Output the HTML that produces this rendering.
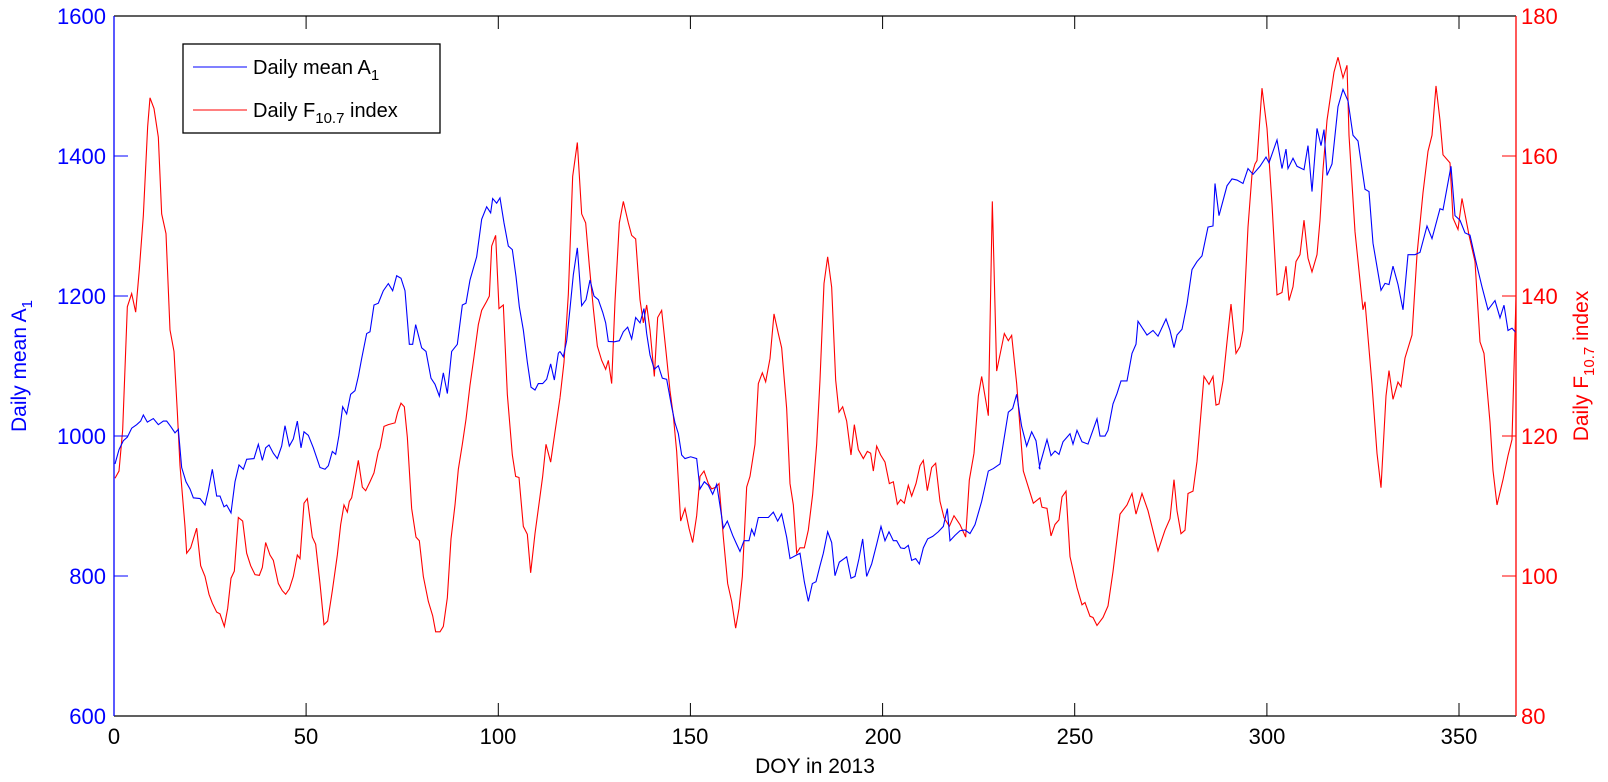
<!DOCTYPE html>
<html><head><meta charset="utf-8"><style>
html,body{margin:0;padding:0;background:#fff;}
svg{display:block;font-family:"Liberation Sans",Arial,sans-serif;}
</style></head><body>
<svg width="1608" height="782" viewBox="0 0 1608 782" xmlns="http://www.w3.org/2000/svg">
<rect width="1608" height="782" fill="#fff"/>
<g transform="translate(100,80) scale(0.33333,0.35714)" fill="none" stroke-width="1.1">
<polyline vector-effect="non-scaling-stroke" stroke="#ff0000" points="45,1115 57,1095 68,980 82,635 95,598 107,650 118,530 130,380 143,130 150,50 162,80 175,160 185,375 198,430 210,700 222,760 232,930 240,1080 255,1250 260,1325 272,1310 290,1255 302,1360 315,1390 327,1440 337,1465 350,1490 360,1495 373,1530 383,1480 393,1395 403,1375 415,1225 428,1235 440,1325 452,1360 465,1385 478,1387 487,1365 497,1295 510,1330 520,1345 535,1410 547,1430 557,1440 568,1425 580,1390 592,1330 600,1340 612,1185 622,1172 637,1280 647,1300 660,1410 672,1525 683,1515 697,1430 712,1330 722,1245 732,1190 742,1210 748,1180 755,1170 775,1065 787,1140 797,1150 810,1125 822,1100 835,1040 840,1030 852,970 865,965 885,960 893,930 903,905 913,915 922,1000 935,1200 948,1280 958,1290 970,1390 985,1460 998,1500 1007,1545 1020,1545 1030,1530 1042,1450 1053,1285 1065,1190 1075,1090 1087,1020 1098,950 1110,855 1122,775 1135,685 1145,645 1160,620 1168,605 1175,465 1187,435 1197,640 1210,630 1222,880 1237,1050 1247,1110 1257,1113 1270,1250 1282,1272 1292,1380 1305,1270 1318,1180 1328,1110 1338,1020 1352,1070 1365,985 1380,890"/>
<polyline vector-effect="non-scaling-stroke" stroke="#0000ff" points="45,1075 57,1035 70,1010 82,1000 95,975 110,965 122,955 130,938 142,958 160,948 175,965 190,955 200,955 212,970 225,988 235,978 245,1085 258,1125 270,1145 280,1170 300,1172 315,1190 325,1150 337,1090 350,1165 360,1165 372,1195 380,1190 393,1212 405,1125 417,1078 430,1090 440,1062 462,1060 475,1020 487,1065 497,1030 507,1022 520,1045 532,1060 545,1025 555,968 568,1025 580,1005 592,955 603,1030 612,985 625,995 640,1030 660,1085 675,1090 685,1080 697,1040 707,1048 717,995 728,915 740,935 752,880 765,870 775,830 785,780 800,710 810,705 822,630 835,625 850,590 865,570 878,590 890,548 903,555 915,590 928,740 938,740 947,685 965,750 978,760 993,835 1005,852 1018,885 1030,820 1042,878 1055,760 1072,740 1087,630 1098,625 1110,560 1130,495 1145,390 1160,355 1172,372 1178,332 1190,345 1200,330 1212,400 1225,465 1237,475 1248,550 1258,635 1270,700 1282,790 1293,860 1305,868 1315,850 1328,850 1340,838 1352,795 1363,840 1375,765 1380,760"/>
</g>
<g transform="translate(560,80) scale(0.33333,0.35714)" fill="none" stroke-width="1.1">
<polyline vector-effect="non-scaling-stroke" stroke="#ff0000" points="0,890 12,790 25,600 38,270 52,175 65,375 77,400 88,520 100,640 112,745 125,785 137,810 145,785 155,850 165,620 178,400 190,340 205,400 215,435 227,445 240,615 250,680 260,630 270,700 283,830 293,665 305,645 318,760 330,870 340,940 350,1040 362,1235 375,1200 387,1255 398,1295 410,1220 420,1110 432,1095 445,1130 455,1145 468,1140 477,1130 490,1280 503,1410 515,1460 527,1535 537,1480 547,1390 560,1140 570,1110 585,1020 595,850 607,820 617,845 630,780 642,655 655,710 665,750 680,920 690,1130 700,1190 710,1325 720,1310 733,1310 745,1260 758,1160 770,1020 780,840 792,570 803,495 815,580 827,840 837,930 848,915 860,955 873,1050 883,965 895,1035 910,1060 922,1040 932,1045 940,1095 950,1025 962,1050 975,1070 988,1130 1000,1125 1012,1188 1022,1175 1033,1185 1045,1135 1055,1165 1068,1130 1080,1080 1090,1065 1102,1150 1115,1085 1127,1073 1140,1180 1152,1225 1168,1250 1182,1220 1200,1245 1217,1280 1228,1120 1242,1045 1255,885 1265,830 1285,940 1297,340 1310,815 1333,710 1345,730 1355,715 1370,850 1390,1095 1420,1185 1440,1170 1446,1197"/>
<polyline vector-effect="non-scaling-stroke" stroke="#0000ff" points="0,760 10,775 20,730 30,640 40,545 52,470 65,632 78,615 90,560 102,605 115,615 128,650 137,680 145,732 163,733 178,730 190,705 203,692 215,725 227,665 240,680 252,640 260,710 270,770 283,810 295,800 307,835 320,838 335,915 345,960 355,990 365,1050 375,1060 392,1055 410,1060 420,1145 433,1125 445,1135 458,1160 470,1132 483,1210 490,1255 502,1235 518,1275 530,1300 540,1320 552,1290 567,1290 575,1258 583,1275 595,1225 605,1225 625,1225 640,1210 653,1235 665,1215 680,1280 690,1340 710,1330 720,1325 733,1405 745,1460 757,1410 768,1405 780,1360 790,1325 803,1265 815,1295 825,1388 838,1350 860,1335 873,1395 885,1390 897,1340 908,1285 920,1390 935,1355 950,1300 963,1250 975,1290 987,1265 1000,1290 1010,1290 1022,1310 1033,1312 1045,1303 1055,1345 1067,1340 1078,1355 1090,1310 1103,1285 1118,1278 1135,1265 1150,1250 1162,1200 1170,1290 1185,1275 1200,1262 1215,1260 1230,1270 1245,1245 1265,1180 1285,1095 1300,1088 1320,1075 1345,930 1358,920 1370,880 1385,970 1400,1025 1415,985 1428,1010 1440,1090 1437,1085"/>
</g>
<g transform="translate(0,40) scale(1,1.148) translate(0,-40)" fill="none" stroke-width="1.1">
<polyline vector-effect="non-scaling-stroke" stroke="#ff0000" points="1042,447 1047,448 1051,472 1055,462 1059,458 1062,438 1066,433 1070,490 1077,517 1082,532 1085,530 1090,542 1093,543 1097,550 1103,543 1108,533 1113,503 1120,453 1127,445 1132,435 1136,453 1142,435 1148,450 1158,485 1165,467 1170,457 1174,423 1177,450 1181,470 1185,467 1188,435 1193,433 1197,407 1204,333 1209,340 1213,333 1216,358 1219,357 1223,337 1227,303 1231,270 1236,313 1240,307 1243,293 1248,203 1252,157 1255,148 1257,145 1262,82 1267,117 1272,183 1277,262 1282,260 1286,237 1289,267 1293,255 1296,233 1300,227 1304,197 1308,230 1312,242 1317,227 1320,197 1323,153 1327,110 1334,68 1338,55 1343,73 1347,62 1349,123 1355,207 1363,275 1365,268 1372,340 1377,400 1381,430 1386,350 1389,328 1393,353 1398,338 1401,342 1405,317 1412,297 1417,227 1423,173 1428,137 1432,123 1436,80 1440,110 1443,140 1450,147 1453,195 1458,205 1462,178 1469,210 1475,233 1480,303 1484,313 1490,373 1493,415 1497,445 1503,423 1508,402 1512,388 1516,264"/>
<polyline vector-effect="non-scaling-stroke" stroke="#0000ff" points="1039,413 1047,388 1051,402 1055,398 1059,401 1063,390 1070,383 1073,392 1077,380 1082,390 1088,392 1097,370 1100,385 1105,385 1108,380 1113,357 1117,348 1121,337 1127,337 1132,313 1136,305 1138,285 1147,297 1153,293 1158,298 1166,283 1170,293 1174,308 1177,297 1182,292 1187,270 1192,240 1197,233 1202,228 1208,203 1213,202 1215,165 1219,193 1227,167 1232,161 1237,162 1243,165 1248,152 1253,157 1260,150 1266,142 1269,147 1277,127 1282,152 1286,135 1288,152 1293,143 1297,150 1304,153 1308,132 1312,172 1317,117 1321,132 1324,118 1327,158 1332,148 1338,98 1343,83 1348,93 1353,123 1358,128 1365,170 1369,172 1373,217 1381,258 1385,252 1389,253 1393,237 1398,253 1403,275 1408,227 1415,227 1420,225 1427,202 1432,213 1440,187 1443,188 1451,150 1455,193 1460,197 1465,208 1470,210 1477,237 1482,255 1488,275 1495,267 1500,282 1504,271 1508,293 1512,291 1516,295"/>
</g>
<line x1="114" y1="16" x2="1516" y2="16" stroke="#000" stroke-width="1.3"/>
<line x1="114" y1="716" x2="1516" y2="716" stroke="#000" stroke-width="1.3"/>
<line x1="114" y1="16" x2="114" y2="716" stroke="#0000ff" stroke-width="1.3"/>
<line x1="1516" y1="16" x2="1516" y2="716" stroke="#ff0000" stroke-width="1.3"/>
<g stroke="#000" stroke-width="1">
<path d="M306.1,716v-13M498.3,716v-13M690.4,716v-13M882.6,716v-13M1074.7,716v-13M1266.9,716v-13M1459,716v-13"/>
<path d="M306.1,16v13M498.3,16v13M690.4,16v13M882.6,16v13M1074.7,16v13M1266.9,16v13M1459,16v13"/>
</g>
<g stroke="#0000ff"><path d="M114,156h14M114,296h14M114,436h14M114,576h14"/></g>
<g stroke="#ff0000"><path d="M1516,156h-14M1516,296h-14M1516,436h-14M1516,576h-14"/></g>
<g font-size="22" fill="#000" text-anchor="middle">
<text x="114" y="744">0</text><text x="306" y="744">50</text><text x="498" y="744">100</text><text x="690" y="744">150</text><text x="883" y="744">200</text><text x="1075" y="744">250</text><text x="1267" y="744">300</text><text x="1459" y="744">350</text>
</g>
<text x="815" y="773" font-size="21" text-anchor="middle" fill="#000">DOY in 2013</text>
<g font-size="22" fill="#0000ff" text-anchor="end">
<text x="106" y="24">1600</text><text x="106" y="164">1400</text><text x="106" y="304">1200</text><text x="106" y="444">1000</text><text x="106" y="584">800</text><text x="106" y="724">600</text>
</g>
<g font-size="22" fill="#ff0000">
<text x="1521" y="24">180</text><text x="1521" y="164">160</text><text x="1521" y="304">140</text><text x="1521" y="444">120</text><text x="1521" y="584">100</text><text x="1521" y="724">80</text>
</g>
<text transform="translate(26,366) rotate(-90)" font-size="21" fill="#0000ff" text-anchor="middle">Daily mean A<tspan font-size="15" dy="6">1</tspan></text>
<text transform="translate(1588,366) rotate(-90)" font-size="21" fill="#ff0000" text-anchor="middle">Daily F<tspan font-size="15" dy="6">10.7</tspan><tspan dy="-6"> index</tspan></text>
<rect x="183" y="44" width="257" height="89" fill="#fff" stroke="#000" stroke-width="1.3"/>
<line x1="193" y1="67" x2="247" y2="67" stroke="#0000ff" stroke-width="1.1"/>
<line x1="193" y1="110" x2="247" y2="110" stroke="#ff0000" stroke-width="1.1"/>
<text x="253" y="74" font-size="20" fill="#000">Daily mean A<tspan font-size="15" dy="6">1</tspan></text>
<text x="253" y="117" font-size="20" fill="#000">Daily F<tspan font-size="15" dy="6">10.7</tspan><tspan dy="-6"> index</tspan></text>
</svg>
</body></html>
